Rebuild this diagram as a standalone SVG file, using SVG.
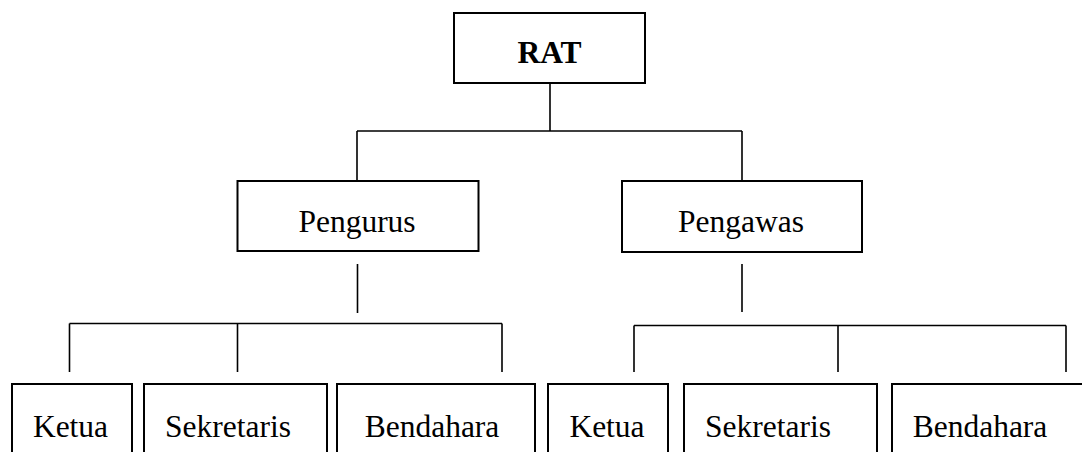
<svg xmlns="http://www.w3.org/2000/svg" width="1082" height="452" viewBox="0 0 1082 452">
<style>
.box{fill:#fff;stroke:#000;stroke-width:2}
.ln{fill:none;stroke:#000;stroke-width:1.6}
text{font-family:"Liberation Serif","Times New Roman",serif;font-size:31.5px;fill:#000}
.b{font-weight:bold}
</style>
<rect width="1082" height="452" fill="#fff"/>
<g id="connectors" class="ln">
<path d="M550 83V131M357 131H742M357 131V181M742 131V181"/>
<path d="M357.5 264V313M69.5 323.5H502M69.5 323.5V372M237.5 323.5V372M502 323.5V372"/>
<path d="M742 264V312M634 325.5H1066M634 325.5V372M838 325.5V372M1066 325.5V372"/>
</g>
<g id="rat"><rect class="box" x="454" y="13" width="191" height="70"/><text class="b" x="549.5" y="63" text-anchor="middle">RAT</text></g>
<g id="pengurus"><rect class="box" x="237.5" y="181" width="241" height="70"/><text x="357" y="232" text-anchor="middle">Pengurus</text></g>
<g id="pengawas"><rect class="box" x="622" y="181" width="240" height="71"/><text x="741" y="232" text-anchor="middle">Pengawas</text></g>
<g id="ketua1"><rect class="box" x="12" y="384" width="120" height="80"/><text x="70.5" y="437" text-anchor="middle">Ketua</text></g>
<g id="sekretaris1"><rect class="box" x="144" y="384" width="183" height="80"/><text x="228" y="437" text-anchor="middle">Sekretaris</text></g>
<g id="bendahara1"><rect class="box" x="337" y="384" width="198" height="80"/><text x="432" y="437" text-anchor="middle">Bendahara</text></g>
<g id="ketua2"><rect class="box" x="548" y="384" width="120" height="80"/><text x="607" y="437" text-anchor="middle">Ketua</text></g>
<g id="sekretaris2"><rect class="box" x="684" y="384" width="193" height="80"/><text x="768" y="437" text-anchor="middle">Sekretaris</text></g>
<g id="bendahara2"><rect class="box" x="892" y="384" width="200" height="80"/><text x="980" y="437" text-anchor="middle">Bendahara</text></g>
</svg>
